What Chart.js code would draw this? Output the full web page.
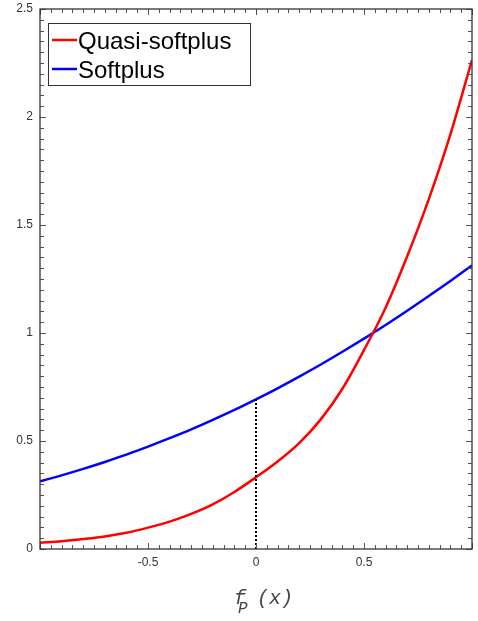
<!DOCTYPE html>
<html>
<head>
<meta charset="utf-8">
<script src="https://cdn.jsdelivr.net/npm/chart.js@4.4.1/dist/chart.umd.min.js"></script>
<style>
  html, body { margin: 0; padding: 0; background: #fff; }
  canvas { display: block; }
</style>
</head>
<body>
<canvas id="c" width="478" height="621"></canvas>
<script>
// x samples (fP(x)) and the two curves
const xs = [-1, -0.9, -0.8, -0.7, -0.6, -0.5, -0.4, -0.3, -0.2, -0.1, 0,
            0.1, 0.2, 0.3, 0.4, 0.5, 0.6, 0.7, 0.8, 0.9, 1];
const quasiSoftplus = [0.029, 0.036, 0.046, 0.058, 0.075, 0.099, 0.127, 0.163, 0.207, 0.264, 0.332,
                       0.405, 0.490, 0.600, 0.742, 0.921, 1.117, 1.355, 1.620, 1.920, 2.264];
const softplus = [0.313, 0.341, 0.371, 0.403, 0.437, 0.474, 0.513, 0.554, 0.598, 0.644, 0.693,
                  0.744, 0.798, 0.854, 0.913, 0.974, 1.037, 1.103, 1.171, 1.241, 1.313];
// vertical marker at x = 0, up to the softplus value
const markerX = [0, 0];
const markerY = [0, 0.693];

const seriesLabels = ['Quasi-softplus', 'Softplus'];
const xTicks = [-0.5, 0, 0.5];
const yTicks = [0, 0.5, 1, 1.5, 2, 2.5];

const toPoints = (xv, yv) => xv.map((x, i) => ({ x: x, y: yv[i] }));

// Octave-like box: frame on all four sides, ticks pointing inwards
const frameTicks = {
  id: 'frameTicks',
  afterDatasetsDraw(chart) {
    const { ctx, chartArea: a, scales } = chart;
    ctx.save();
    ctx.strokeStyle = '#555';
    ctx.lineWidth = 1;
    ctx.beginPath();
    const sx = scales.x, sy = scales.y;
    for (let i = 0; i <= 40; i++) {
      const v = sx.min + i * 0.05;
      const px = Math.round(sx.getPixelForValue(v)) + 0.5;
      const len = i % 10 === 0 ? 6 : 4;
      ctx.moveTo(px, a.bottom); ctx.lineTo(px, a.bottom - len);
      ctx.moveTo(px, a.top); ctx.lineTo(px, a.top + len);
    }
    for (let i = 0; i <= 50; i++) {
      const v = sy.min + i * 0.05;
      const py = Math.round(sy.getPixelForValue(v)) + 0.5;
      const len = i % 10 === 0 ? 6 : 4;
      ctx.moveTo(a.left, py); ctx.lineTo(a.left + len, py);
      ctx.moveTo(a.right, py); ctx.lineTo(a.right - len, py);
    }
    ctx.stroke();
    ctx.strokeStyle = '#333';
    ctx.lineWidth = 1.3;
    ctx.strokeRect(a.left, a.top, a.right - a.left, a.bottom - a.top);
    ctx.restore();
  }
};

// boxed legend in the upper left corner
const boxLegend = {
  id: 'boxLegend',
  afterDraw(chart) {
    const { ctx, chartArea: a } = chart;
    const x0 = a.left + 8, y0 = a.top + 14, w = 202, h = 62;
    ctx.save();
    ctx.fillStyle = '#fff';
    ctx.fillRect(x0, y0, w, h);
    ctx.strokeStyle = '#333';
    ctx.lineWidth = 1;
    ctx.strokeRect(x0 + 0.5, y0 + 0.5, w, h);
    ctx.font = '24px "Liberation Sans", Arial, sans-serif';
    ctx.textBaseline = 'alphabetic';
    seriesLabels.forEach((lab, i) => {
      const ds = chart.data.datasets[i];
      const yl = y0 + 17 + i * 29;
      ctx.strokeStyle = ds.borderColor;
      ctx.lineWidth = 2.5;
      ctx.beginPath();
      ctx.moveTo(x0 + 4, yl); ctx.lineTo(x0 + 29, yl);
      ctx.stroke();
      ctx.fillStyle = '#000';
      ctx.fillText(lab, x0 + 30, yl + 9);
    });
    ctx.restore();
  }
};

// x axis title f_P (x) with a subscript
const xTitle = {
  id: 'xTitle',
  afterDraw(chart) {
    const { ctx, chartArea: a } = chart;
    const cx = (a.left + a.right) / 2;
    const base = a.bottom + 55;
    ctx.save();
    ctx.fillStyle = '#444';
    ctx.textBaseline = 'alphabetic';
    ctx.font = 'italic 20px "Liberation Mono", monospace';
    ctx.fillText('f', cx - 22, base);
    ctx.font = 'italic 16px "Liberation Mono", monospace';
    ctx.fillText('P', cx - 18, base + 9);
    ctx.font = 'italic 20px "Liberation Mono", monospace';
    ctx.fillText('(x)', cx + 1, base);
    ctx.restore();
  }
};

const tickFont = { family: '"Liberation Sans", Arial, sans-serif', size: 12 };
const noEdgePadding = s => {
  s.paddingTop = 0; s.paddingBottom = 0; s.paddingLeft = 0; s.paddingRight = 0;
};

new Chart(document.getElementById('c'), {
  type: 'line',
  data: {
    datasets: [
      { label: seriesLabels[0], data: toPoints(xs, quasiSoftplus), borderColor: '#ff0000',
        borderWidth: 2.5, pointRadius: 0, cubicInterpolationMode: 'monotone', order: 1 },
      { label: seriesLabels[1], data: toPoints(xs, softplus), borderColor: '#0000ff',
        borderWidth: 2.5, pointRadius: 0, cubicInterpolationMode: 'monotone', order: 2 },
      { label: 'marker', data: toPoints(markerX, markerY), borderColor: '#000',
        borderWidth: 2, borderDash: [2, 2], pointRadius: 0, order: 0 },
    ],
  },
  options: {
    responsive: false,
    animation: false,
    layout: { padding: { top: 9, right: 6, left: 0, bottom: 0 } },
    plugins: { legend: { display: false }, tooltip: { enabled: false } },
    scales: {
      x: {
        type: 'linear', min: -1, max: 1,
        grid: { display: false, drawTicks: false },
        border: { display: false },
        afterBuildTicks: s => { s.ticks = xTicks.map(v => ({ value: v })); },
        ticks: { font: tickFont, color: '#333', padding: 6, maxRotation: 0,
                 callback: v => String(v) },
        afterFit: s => { s.height = 72; noEdgePadding(s); },
      },
      y: {
        type: 'linear', min: 0, max: 2.5,
        grid: { display: false, drawTicks: false },
        border: { display: false },
        afterBuildTicks: s => { s.ticks = yTicks.map(v => ({ value: v })); },
        ticks: { font: tickFont, color: '#333', padding: 7,
                 callback: v => String(v) },
        afterFit: s => { s.width = 40; noEdgePadding(s); },
      },
    },
  },
  plugins: [frameTicks, boxLegend, xTitle],
});
</script>
</body>
</html>
